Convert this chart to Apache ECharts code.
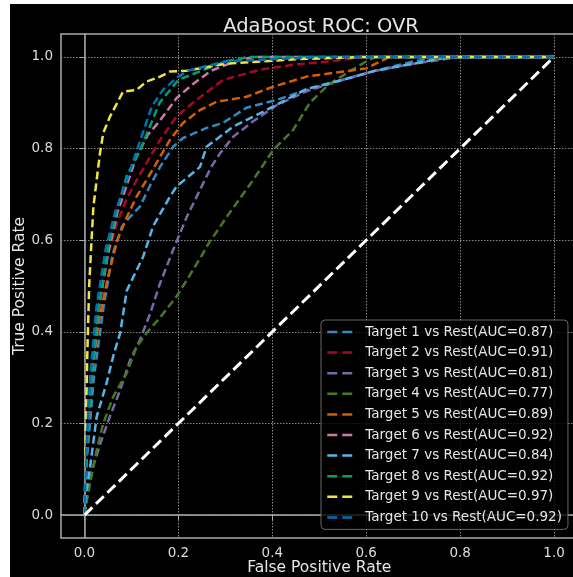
<!DOCTYPE html>
<html>
<head>
<meta charset="utf-8">
<script src="https://cdn.jsdelivr.net/npm/echarts@6/dist/echarts.min.js"></script>
<style>
    html, body { margin: 0; padding: 0; background: #fff; }
    #chart { position: absolute; left: 10px; top: 4px; width: 563px; height: 573px; background: #000; }
</style>
</head>
<body>
<div id="chart"></div>
<script>
// 刻度
const ticks = [0, 0.2, 0.4, 0.6, 0.8, 1.0];

// 每个类别的 ROC 曲线 [FPR, TPR]
const target1 = [[0,0],[0.005,0.12],[0.02,0.3],[0.04,0.45],[0.06,0.57],[0.08,0.63],[0.097,0.651],[0.118,0.673],[0.14,0.72],[0.161,0.76],[0.189,0.804],[0.21,0.823],[0.26,0.845],[0.295,0.856],[0.345,0.889],[0.409,0.906],[0.473,0.928],[0.55,0.95],[0.62,0.97],[0.7,0.99],[0.76,1],[1,1]];
const target2 = [[0,0],[0.005,0.15],[0.015,0.3],[0.03,0.45],[0.05,0.57],[0.07,0.64],[0.09,0.69],[0.111,0.731],[0.132,0.768],[0.161,0.819],[0.196,0.87],[0.231,0.9],[0.295,0.95],[0.374,0.972],[0.444,0.983],[0.52,0.99],[0.6,1],[1,1]];
const target3 = [[0,0],[0.005,0.04],[0.018,0.105],[0.035,0.16],[0.054,0.215],[0.075,0.27],[0.097,0.338],[0.118,0.382],[0.14,0.44],[0.161,0.506],[0.189,0.579],[0.218,0.651],[0.246,0.71],[0.27,0.76],[0.289,0.79],[0.317,0.826],[0.36,0.86],[0.41,0.895],[0.473,0.925],[0.55,0.95],[0.62,0.97],[0.7,0.985],[0.8,1],[1,1]];
const target4 = [[0,0],[0.005,0.03],[0.012,0.07],[0.026,0.142],[0.04,0.2],[0.061,0.258],[0.09,0.31],[0.111,0.367],[0.132,0.397],[0.16,0.43],[0.196,0.477],[0.218,0.513],[0.253,0.572],[0.26,0.586],[0.303,0.651],[0.359,0.731],[0.402,0.797],[0.444,0.84],[0.48,0.9],[0.52,0.94],[0.567,0.97],[0.6,0.99],[0.62,1],[1,1]];
const target5 = [[0,0],[0.005,0.15],[0.015,0.3],[0.03,0.42],[0.05,0.52],[0.07,0.6],[0.09,0.65],[0.111,0.695],[0.132,0.731],[0.161,0.782],[0.182,0.819],[0.21,0.856],[0.246,0.884],[0.281,0.902],[0.345,0.913],[0.402,0.935],[0.473,0.957],[0.53,0.965],[0.6,0.975],[0.65,1],[1,1]];
const target6 = [[0,0],[0.005,0.15],[0.015,0.3],[0.03,0.45],[0.05,0.57],[0.07,0.66],[0.09,0.72],[0.11,0.78],[0.135,0.83],[0.16,0.86],[0.196,0.91],[0.23,0.94],[0.27,0.97],[0.32,0.99],[0.36,1],[1,1]];
const target7 = [[0,0],[0.004,0.05],[0.012,0.105],[0.026,0.215],[0.047,0.288],[0.062,0.35],[0.076,0.397],[0.09,0.49],[0.125,0.564],[0.146,0.63],[0.182,0.695],[0.196,0.717],[0.246,0.76],[0.26,0.804],[0.317,0.848],[0.38,0.88],[0.473,0.93],[0.55,0.95],[0.62,0.97],[0.7,0.985],[0.78,1],[1,1]];
const target8 = [[0,0],[0.005,0.15],[0.015,0.3],[0.03,0.45],[0.05,0.58],[0.07,0.67],[0.09,0.74],[0.12,0.8],[0.14,0.85],[0.16,0.9],[0.2,0.95],[0.25,0.97],[0.3,0.99],[0.35,1],[1,1]];
const target9 = [[0,0],[0.002,0.1],[0.003,0.2],[0.006,0.35],[0.01,0.5],[0.014,0.58],[0.019,0.673],[0.033,0.79],[0.04,0.834],[0.054,0.869],[0.082,0.924],[0.111,0.928],[0.132,0.946],[0.161,0.957],[0.182,0.968],[0.218,0.97],[0.3,0.985],[0.45,0.995],[0.6,1],[1,1]];
const target10 = [[0,0],[0.004,0.15],[0.012,0.3],[0.025,0.45],[0.045,0.58],[0.065,0.66],[0.09,0.73],[0.112,0.797],[0.143,0.891],[0.167,0.928],[0.196,0.954],[0.22,0.97],[0.3,0.99],[0.5,1],[1,1]];
const diagonal = [[0,0],[1,1]];

const curves = [target1, target2, target3, target4, target5, target6, target7, target8, target9, target10];
const aucs = [0.87, 0.91, 0.81, 0.77, 0.89, 0.92, 0.84, 0.92, 0.97, 0.92];
const colors = ['#348ABD', '#A60628', '#7A68A6', '#467821', '#D55E00', '#CC79A7', '#56B4E9', '#009E73', '#F0E442', '#0072B2'];
const names = curves.map((c, i) => `Target ${i + 1} vs Rest(AUC=${aucs[i].toFixed(2)})`);

const font = 'DejaVu Sans';
const chart = echarts.init(document.getElementById('chart'));

const series = curves.map((data, i) => ({
    name: names[i],
    type: 'line',
    data: data,
    symbol: 'none',
    color: colors[i],
    lineStyle: { color: colors[i], width: 2.5, type: [8, 4] },
    animation: false
}));
series.push({
    name: 'diag',
    type: 'line',
    data: diagonal,
    symbol: 'none',
    lineStyle: { color: '#fff', width: 3, type: [11, 5] },
    animation: false
});

function axisCfg(name, isY) {
    return {
        type: 'value',
        min: -0.05,
        max: 1.05,
        name: name,
        nameLocation: 'middle',
        nameGap: isY ? 33 : 22,
        nameMoveOverlap: false,
        nameTextStyle: { color: '#e6e6e6', fontSize: 15.5, fontFamily: font },
        axisLine: { show: true, lineStyle: { color: '#aaa', width: 1.5 } },
        axisTick: { show: true, length: 5, customValues: ticks, lineStyle: { color: '#aaa' } },
        axisLabel: {
            customValues: ticks,
            color: '#dcdcdc',
            fontSize: 13.5,
            fontFamily: font,
            margin: 8,
            formatter: v => v.toFixed(1)
        },
        splitLine: { show: true, lineStyle: { color: '#888', width: 1, type: [1.5, 1.5] } }
    };
}

const option = {
    backgroundColor: '#000',
    animation: false,
    title: {
        text: 'AdaBoost ROC: OVR',
        left: 306,
        textAlign: 'center',
        top: 8,
        textStyle: { color: '#e6e6e6', fontSize: 19.5, fontWeight: 'normal', fontFamily: font }
    },
    grid: {
        left: 51, top: 30, width: 516.5, height: 504,
        outerBoundsMode: 'none',
        containLabel: false,
        show: true, borderColor: '#aaa', borderWidth: 1.5, backgroundColor: 'transparent'
    },
    xAxis: axisCfg('False Positive Rate', false),
    yAxis: axisCfg('True Positive Rate', true),
    legend: {
        data: names,
        orient: 'vertical',
        left: 311,
        top: 316,
        padding: [5, 6, 5, 5],
        itemWidth: 26,
        itemHeight: 14,
        itemGap: 6.6,
        backgroundColor: 'rgba(0,0,0,0.8)',
        borderColor: '#666',
        borderWidth: 1,
        borderRadius: 4,
        itemStyle: { opacity: 0 },
        lineStyle: { width: 2.5, type: [10, 5] },
        textStyle: { color: '#e6e6e6', fontSize: 13.5, fontFamily: font, padding: [0, 0, 0, 7] }
    },
    series: series
};

chart.setOption(option);
</script>
</body>
</html>
